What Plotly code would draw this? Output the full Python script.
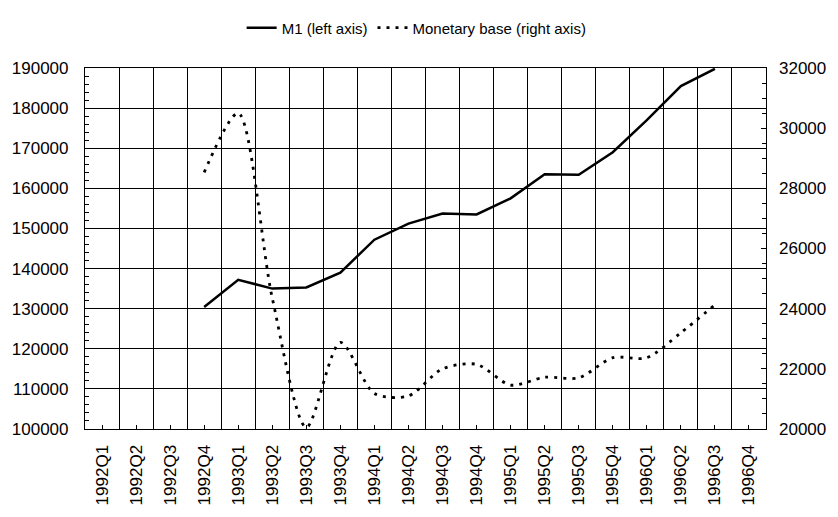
import plotly.graph_objects as go

quarters = ["1992Q1", "1992Q2", "1992Q3", "1992Q4",
            "1993Q1", "1993Q2", "1993Q3", "1993Q4",
            "1994Q1", "1994Q2", "1994Q3", "1994Q4",
            "1995Q1", "1995Q2", "1995Q3", "1995Q4",
            "1996Q1", "1996Q2", "1996Q3", "1996Q4"]

m1 = [None, None, None, 130400,
      137200, 135000, 135300, 139000,
      147200, 151200, 153700, 153500,
      157500, 163500, 163400, 169000,
      177000, 185500, 189800, None]

monetary_base = [None, None, None, 28530,
                 30500, 24350, 20050, 22880,
                 21180, 21100, 22000, 22150,
                 21460, 21720, 21700, 22370,
                 22370, 23200, 24130, None]

xpos = list(range(len(quarters)))

FONT = "Liberation Sans, Arial, Helvetica, sans-serif"

fig = go.Figure()
fig.add_trace(go.Scatter(
    x=xpos, y=m1, name="M1 (left axis)", mode="lines",
    line=dict(color="black", width=2.5), yaxis="y"))
fig.add_trace(go.Scatter(
    x=xpos, y=monetary_base, name="Monetary base (right axis)", mode="lines",
    line=dict(color="black", width=2.8, dash="3px,6px", shape="spline", smoothing=0.8),
    yaxis="y2"))

fig.update_layout(
    width=838, height=517,
    margin=dict(l=81, r=70, t=60, b=80),
    paper_bgcolor="white", plot_bgcolor="white",
    font=dict(family=FONT, size=17, color="black"),
    showlegend=True,
    legend=dict(orientation="h", x=0.487, xanchor="center", y=1.111, yanchor="middle",
                font=dict(size=15), itemwidth=30, tracegroupgap=0,
                bgcolor="rgba(0,0,0,0)"),
    xaxis=dict(
        range=[-0.5, len(quarters) - 0.5],
        tickmode="array", tickvals=xpos, ticktext=quarters, tickangle=-90,
        showgrid=False, zeroline=False,
        ticks="inside", ticklen=4, tickcolor="black", tickwidth=1,
        showline=True, linecolor="black", linewidth=1.2, mirror=True,
        ticklabelstandoff=8,
        minor=dict(tick0=0.5, dtick=1, showgrid=True, gridcolor="black", gridwidth=1,
                   ticks=""),
        tickfont=dict(size=17),
    ),
    yaxis=dict(
        range=[100000, 190000], dtick=10000, tick0=100000,
        showgrid=True, gridcolor="black", gridwidth=1, zeroline=False,
        ticks="inside", ticklen=5, tickcolor="black",
        minor=dict(dtick=2000, ticks="inside", ticklen=4, tickcolor="black", showgrid=False),
        showline=True, linecolor="black", linewidth=1.2, mirror=True,
        ticklabelstandoff=12, tickformat="d",
        tickfont=dict(size=17),
    ),
    yaxis2=dict(
        range=[20000, 32000], dtick=2000, tick0=20000, overlaying="y", side="right",
        showgrid=False, zeroline=False,
        ticks="inside", ticklen=5, tickcolor="black",
        minor=dict(dtick=500, ticks="inside", ticklen=4, tickcolor="black", showgrid=False),
        showline=False, ticklabelstandoff=12, tickformat="d",
        tickfont=dict(size=17),
    ),
)

fig.write_html("out.html", config={"displayModeBar": False},
               post_script="document.body.style.margin='0px';")
